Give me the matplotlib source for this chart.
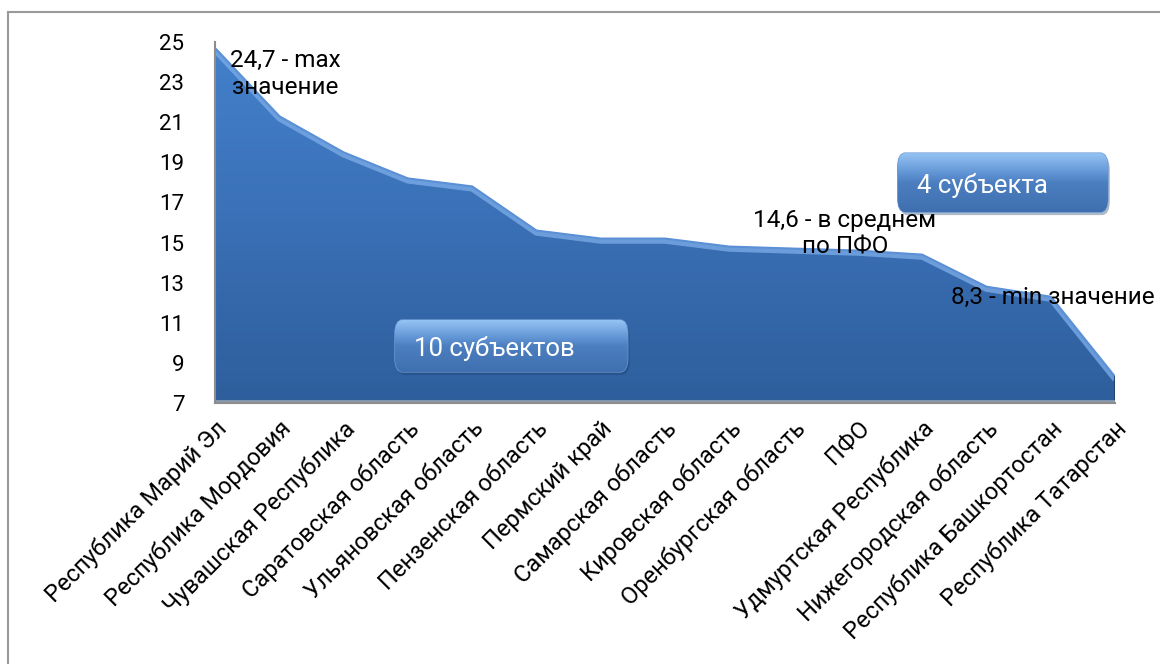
import numpy as np
import matplotlib
matplotlib.use("Agg")
import matplotlib.pyplot as plt
from matplotlib.patches import FancyBboxPatch, Polygon
from matplotlib.lines import Line2D

plt.rcParams['font.family'] = ['Roboto', 'DejaVu Sans']

regions = ["Республика Марий Эл", "Республика Мордовия", "Чувашская Республика",
           "Саратовская область", "Ульяновская область", "Пензенская область",
           "Пермский край", "Самарская область", "Кировская область",
           "Оренбургская область", "ПФО", "Удмуртская Республика",
           "Нижегородская область", "Республика Башкортостан", "Республика Татарстан"]
values = [24.7, 21.3, 19.5, 18.2, 17.8, 15.6, 15.2, 15.2, 14.8, 14.7, 14.6, 14.4, 12.8, 12.3, 8.3]
y_ticks = [7, 9, 11, 13, 15, 17, 19, 21, 23, 25]

fig = plt.figure(figsize=(11.6, 6.64), dpi=100)
ax = fig.add_axes([0.1853, 0.3931, 0.7759, 0.5436])

x = np.arange(len(values))
ymin, ymax = 7, 25

# area with vertical gradient
grad = np.linspace(0, 1, 256).reshape(-1, 1)
cmap = matplotlib.colors.LinearSegmentedColormap.from_list('g', ['#2e5e9c', '#3a70b6', '#4381cb'])
im = ax.imshow(grad, cmap=cmap, aspect='auto', origin='lower',
               extent=[x[0], x[-1], ymin, ymax], zorder=1)
verts = np.vstack([np.column_stack([x, values]), [[x[-1], ymin], [x[0], ymin]]])
clip = Polygon(verts, closed=True, transform=ax.transData, facecolor='none', edgecolor='none')
ax.add_patch(clip)
im.set_clip_path(clip)

# bevel highlight on top edge
ax.plot(x, np.array(values) - 0.12, color='#7aaae6', lw=4, alpha=0.8, zorder=2, solid_capstyle='butt')
ax.plot(x, values, color='#5b90d6', lw=1.5, zorder=2)
ax.plot([x[-1], x[-1]], [ymin, values[-1]], color='#1f3f6a', lw=2, zorder=2)
ax.plot([x[0], x[-1]], [ymin + 0.08, ymin + 0.08], color='#8a9bb0', lw=2, zorder=2)

ax.set_xlim(x[0], x[-1])
ax.set_ylim(ymin, ymax)
ax.set_yticks(y_ticks)
ax.set_yticklabels([str(t) for t in y_ticks], fontsize=16)
ax.set_xticks(x)
ax.set_xticklabels(regions, rotation=45, ha='right', rotation_mode='anchor', fontsize=17)
ax.tick_params(axis='both', length=0, pad=10)
ax.tick_params(axis='y', pad=22)
for s in ['top', 'right']:
    ax.spines[s].set_visible(False)
ax.spines['left'].set_color('#8c8c8c')
ax.spines['left'].set_linewidth(1.5)
ax.spines['bottom'].set_color('#8c8c8c')
ax.spines['bottom'].set_linewidth(1.5)

# annotations
ax.text(1.09, 23.4, "24,7 - max\nзначение", ha='center', va='center', fontsize=17.5,
        linespacing=1.2, zorder=5)
ax.text(9.8, 15.45, "14,6 - в среднем\nпо ПФО", ha='center', va='center', fontsize=17.5,
        linespacing=1.2, zorder=5)
ax.text(13.03, 12.28, "8,3 - min значение", ha='center', va='center', fontsize=17.5,
        clip_on=False, zorder=5)

box_cmap = matplotlib.colors.LinearSegmentedColormap.from_list(
    'b', [(0, '#3f6faf'), (0.5, '#4c7fc0'), (0.62, '#5b8fd0'), (1, '#95c3f4')])


def bevel_box(x0, y0, x1, y1, label):
    w, h = x1 - x0, y1 - y0
    shadow = FancyBboxPatch((x0 + 0.03, y0 - 0.15), w, h, boxstyle="round,pad=0,rounding_size=0.12",
                            mutation_aspect=6, facecolor='#1c3b66', edgecolor='none', alpha=0.35, zorder=5)
    ax.add_patch(shadow)
    box = FancyBboxPatch((x0, y0), w, h, boxstyle="round,pad=0,rounding_size=0.12",
                         mutation_aspect=6, facecolor='#4f80bf', edgecolor='#6d9ad6', lw=1, zorder=6)
    ax.add_patch(box)
    g = ax.imshow(grad, cmap=box_cmap, aspect='auto', origin='lower',
                  extent=[x0, x1, y0, y1], zorder=7)
    g.set_clip_path(box)
    ax.text(x0 + 0.3, y0 + h * 0.45, label, ha='left', va='center', color='white',
            fontsize=18.5, zorder=8)


bevel_box(2.8, 8.55, 6.42, 11.14, "10 субъектов")
bevel_box(10.62, 16.52, 13.89, 19.46, "4 субъекта")
ax.set_xlim(x[0], x[-1])
ax.set_ylim(ymin, ymax)

# outer frame
fig.add_artist(Line2D([8 / 1160, 8 / 1160], [0, 1 - 12 / 664], transform=fig.transFigure,
                      color='#9a9a9a', lw=1.5))
fig.add_artist(Line2D([8 / 1160, 1], [1 - 12 / 664, 1 - 12 / 664], transform=fig.transFigure,
                      color='#9a9a9a', lw=1.5))

fig.savefig("out.png", dpi=100)
